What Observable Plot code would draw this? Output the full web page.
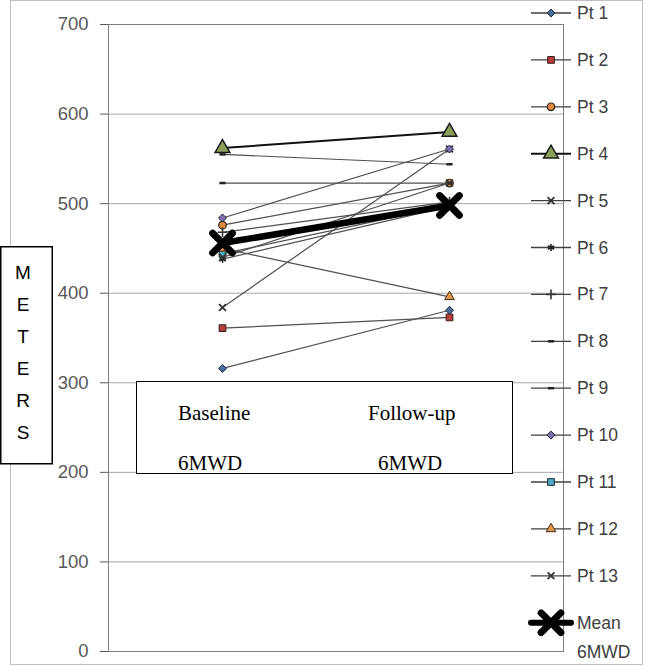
<!DOCTYPE html>
<html>
<head>
<meta charset="utf-8">
<script src="https://cdn.jsdelivr.net/npm/d3@7"></script>
<script src="https://cdn.jsdelivr.net/npm/@observablehq/plot@0.6"></script>
<style>
  html, body { margin: 0; padding: 0; background: #fff; }
  #wrap { position: relative; width: 647px; height: 667px; overflow: hidden; }
  #wrap svg { position: absolute; left: 0; top: 0; }
</style>
</head>
<body>
<div id="wrap"></div>
<script>
// ---- data ----
const times = ["Baseline", "Follow-up"];
const patients = ["Pt 1", "Pt 2", "Pt 3", "Pt 4", "Pt 5", "Pt 6", "Pt 7", "Pt 8", "Pt 9", "Pt 10", "Pt 11", "Pt 12", "Pt 13"];
const baseline = [316, 361, 476, 562, 384, 438, 468, 523, 555, 484, 444, 450, 440];
const followUp = [381, 373, 523, 580, 561, 497, 502, 523, 544, 561, 498, 396, 523];
const meanName = ["Mean", "6MWD"];
const meanValues = [456, 498];
const yTicks = [0, 100, 200, 300, 400, 500, 600, 700];
const boxTop = ["Baseline", "Follow-up"];
const boxBottom = ["6MWD", "6MWD"];
const axisTitle = "METERS";

// ---- styles ----
const dash = {draw(ctx, size) { const r = Math.sqrt(size) / 2; ctx.moveTo(-r, 0); ctx.lineTo(r, 0); }};
const styles = [
  {symbol: "diamond2", r: 3.6, fill: "#4a6d9c", stroke: "#1f2d44", sw: 1, line: "#505050", lw: 1.2},
  {symbol: "square", r: 3.8, fill: "#b5403d", stroke: "#3a1a1a", sw: 1, line: "#505050", lw: 1.2},
  {symbol: "circle", r: 3.8, fill: "#e0893c", stroke: "#2a2a1a", sw: 1.2, line: "#505050", lw: 1.2},
  {symbol: "triangle", r: 5.5, fill: "#8c9e5a", stroke: "#1a1a1a", sw: 1.5, line: "#111", lw: 2},
  {symbol: "times", r: 3.2, fill: "none", stroke: "#333", sw: 1.8, line: "#505050", lw: 1.2},
  {symbol: "asterisk", r: 3.4, fill: "none", stroke: "#222", sw: 1.6, line: "#505050", lw: 1.2},
  {symbol: "plus", r: 3.2, fill: "none", stroke: "#333", sw: 1.6, line: "#505050", lw: 1.2},
  {symbol: dash, r: 3.5, fill: "none", stroke: "#222", sw: 2.5, line: "#505050", lw: 1.2},
  {symbol: dash, r: 3.5, fill: "none", stroke: "#222", sw: 2.5, line: "#505050", lw: 1.2},
  {symbol: "diamond2", r: 3.6, fill: "#7d6fae", stroke: "#22203a", sw: 1, line: "#505050", lw: 1.2},
  {symbol: "square", r: 3.8, fill: "#4bacc6", stroke: "#1a2a33", sw: 1, line: "#505050", lw: 1.2},
  {symbol: "triangle", r: 3.6, fill: "#e89a4a", stroke: "#3a2a1a", sw: 1, line: "#505050", lw: 1.2},
  {symbol: "times", r: 3.2, fill: "none", stroke: "#333", sw: 1.8, line: "#505050", lw: 1.2}
];
const meanStyle = {symbol: "times", r: 9, fill: "none", stroke: "#000", sw: 7, line: "#000", lw: 6.5};

// ---- plot ----
const W = 647, H = 667;
const marks = [
  Plot.gridY(yTicks, {stroke: "#a6a6a6", strokeOpacity: 1}),
  Plot.frame({stroke: "#7f7f7f"})
];
patients.forEach((p, i) => {
  const rows = times.map((t, j) => ({time: t, value: j === 0 ? baseline[i] : followUp[i]}));
  const s = styles[i];
  marks.push(Plot.line(rows, {x: "time", y: "value", stroke: s.line, strokeWidth: s.lw}));
  marks.push(Plot.dot(rows, {x: "time", y: "value", symbol: s.symbol, r: s.r, fill: s.fill, stroke: s.stroke, strokeWidth: s.sw}));
});
const meanRows = times.map((t, j) => ({time: t, value: meanValues[j]}));
marks.push(Plot.line(meanRows, {x: "time", y: "value", stroke: meanStyle.line, strokeWidth: meanStyle.lw}));
marks.push(Plot.dot(meanRows, {x: "time", y: "value", symbol: meanStyle.symbol, r: meanStyle.r, fill: "none", stroke: meanStyle.stroke, strokeWidth: meanStyle.sw, strokeLinecap: "round"}));

const chart = Plot.plot({
  width: W, height: H,
  marginLeft: 108, marginRight: 84, marginTop: 24, marginBottom: 16,
  style: {fontFamily: "'Liberation Sans', Arial, sans-serif", fontSize: "18.5px", color: "#595959", background: "transparent"},
  x: {type: "point", domain: times, padding: 0.5, axis: null},
  y: {domain: [0, 700], ticks: yTicks, tickSize: 8, tickPadding: 12, label: null},
  marks
});
document.getElementById("wrap").appendChild(chart);

// ---- overlay: frame, boxes, legend ----
const ov = d3.select("#wrap").append("svg").attr("width", W).attr("height", H)
  .style("font-family", "'Liberation Sans', Arial, sans-serif");
ov.append("rect").attr("x", 10.5).attr("y", 0.5).attr("width", 632).attr("height", 664)
  .attr("fill", "none").attr("stroke", "#bfbfbf");

// inner label box
ov.append("rect").attr("x", 136.5).attr("y", 381.5).attr("width", 376).attr("height", 92)
  .attr("fill", "#fff").attr("stroke", "#000").attr("stroke-width", 1);
const boxX = [178, 368], boxX2 = [178, 378];
boxTop.forEach((t, i) => ov.append("text").attr("x", boxX[i]).attr("y", 420)
  .attr("font-family", "'Liberation Serif', 'Times New Roman', serif").attr("font-size", 21).attr("fill", "#000").text(t));
boxBottom.forEach((t, i) => ov.append("text").attr("x", boxX2[i]).attr("y", 470)
  .attr("font-family", "'Liberation Serif', 'Times New Roman', serif").attr("font-size", 21).attr("fill", "#000").text(t));

// METERS box
ov.append("rect").attr("x", 0.75).attr("y", 246.75).attr("width", 51.5).attr("height", 217)
  .attr("fill", "#fff").attr("stroke", "#000").attr("stroke-width", 1.5);
axisTitle.split("").forEach((ch, i) => ov.append("text").attr("x", 23).attr("y", 272 + i * 32)
  .attr("text-anchor", "middle").attr("dominant-baseline", "central")
  .attr("font-size", 19).attr("fill", "#000").text(ch));

// legend
function symType(s) {
  if (typeof s === "object") return s;
  return ({diamond2: d3.symbolDiamond2, square: d3.symbolSquare, circle: d3.symbolCircle, triangle: d3.symbolTriangle,
    times: d3.symbolTimes, asterisk: d3.symbolAsterisk, plus: d3.symbolPlus})[s];
}
const legY0 = 13, legStep = 46.9;
const entries = patients.map((p, i) => ({label: [p], s: styles[i]})).concat([{label: meanName, s: meanStyle}]);
entries.forEach((e, i) => {
  const y = legY0 + i * legStep;
  const g = ov.append("g");
  g.append("line").attr("x1", 531).attr("x2", 571).attr("y1", y).attr("y2", y)
    .attr("stroke", e.s === meanStyle ? "#000" : (e.s.line === "#111" ? "#111" : "#404040"))
    .attr("stroke-width", e.s === meanStyle ? 6 : (e.s.lw > 1.5 ? 2 : 1.3))
    .attr("stroke-linecap", e.s === meanStyle ? "round" : "butt");
  g.append("path").attr("transform", `translate(551,${y})`)
    .attr("d", d3.symbol().type(symType(e.s.symbol)).size(e.s.r * e.s.r * Math.PI)())
    .attr("fill", e.s.fill).attr("stroke", e.s.stroke).attr("stroke-width", e.s.sw)
    .attr("stroke-linecap", e.s === meanStyle ? "round" : "butt");
  e.label.forEach((t, k) => g.append("text").attr("x", 577).attr("y", y + k * 29)
    .attr("dominant-baseline", "central").attr("font-size", 17.5).attr("fill", "#404040").text(t));
});
</script>
</body>
</html>
